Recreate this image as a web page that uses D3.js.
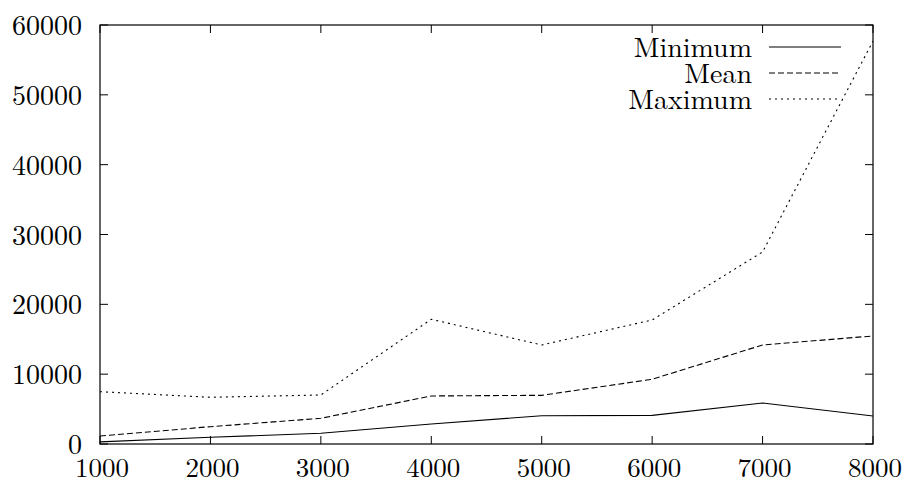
<!DOCTYPE html>
<html>
<head>
<meta charset="utf-8">
<script src="https://cdnjs.cloudflare.com/ajax/libs/d3/7.8.5/d3.min.js"></script>
<style>
  body { margin: 0; background: #fff; }
  svg text { font-family: "Latin Modern Roman", "CMU Serif", "Liberation Serif", serif; font-size: 28px; fill: #000; }
</style>
</head>
<body>
<div id="chart"></div>
<script>
// values
const sizes = [1000, 2000, 3000, 4000, 5000, 6000, 7000, 8000];
const minimum = [300, 960, 1530, 2870, 4050, 4100, 5870, 4010];
const mean = [1150, 2480, 3680, 6880, 6970, 9270, 14180, 15470];
const maximum = [7490, 6690, 7020, 17860, 14180, 17760, 27500, 57700];
const xTicks = [1000, 2000, 3000, 4000, 5000, 6000, 7000, 8000];
const yTicks = [0, 10000, 20000, 30000, 40000, 50000, 60000];

const series = [
  { name: "Minimum", values: minimum, dash: null },
  { name: "Mean", values: mean, dash: "6,3" },
  { name: "Maximum", values: maximum, dash: "2,4" }
];

const w = 909, h = 480;
const m = { left: 100, right: 36, top: 25, bottom: 36 };

const svg = d3.select("#chart").append("svg")
  .attr("width", w)
  .attr("height", h);

const x = d3.scaleLinear().domain([1000, 8000]).range([m.left, w - m.right]);
const y = d3.scaleLinear().domain([0, 60000]).range([h - m.bottom, m.top]);

const tickLen = 8;

// ticks, inward on all four sides
const g = svg.append("g").attr("stroke", "#000").attr("stroke-width", 1);
xTicks.forEach(function (t) {
  g.append("line").attr("x1", x(t)).attr("x2", x(t))
    .attr("y1", y(0)).attr("y2", y(0) - tickLen);
  g.append("line").attr("x1", x(t)).attr("x2", x(t))
    .attr("y1", y(60000)).attr("y2", y(60000) + tickLen);
});
yTicks.forEach(function (t) {
  g.append("line").attr("x1", x(1000)).attr("x2", x(1000) + tickLen)
    .attr("y1", y(t)).attr("y2", y(t));
  g.append("line").attr("x1", x(8000)).attr("x2", x(8000) - tickLen)
    .attr("y1", y(t)).attr("y2", y(t));
});

// tick labels
svg.append("g").selectAll("text")
  .data(yTicks).enter().append("text")
  .attr("x", x(1000) - 18)
  .attr("y", function (d) { return y(d) + 10; })
  .attr("text-anchor", "end")
  .text(function (d) { return d; });

svg.append("g").selectAll("text")
  .data(xTicks).enter().append("text")
  .attr("x", function (d) { return x(d) + 2; })
  .attr("y", 477)
  .attr("text-anchor", "middle")
  .style("font-size", "27px")
  .text(function (d) { return d; });

// lines
const line = d3.line()
  .x(function (d, i) { return x(sizes[i]); })
  .y(function (d) { return y(d); });

svg.append("clipPath").attr("id", "clip")
  .append("rect")
  .attr("x", m.left).attr("y", m.top)
  .attr("width", w - m.left - m.right).attr("height", h - m.top - m.bottom);

svg.append("g").attr("clip-path", "url(#clip)")
  .selectAll("path")
  .data(series).enter().append("path")
  .attr("d", function (d) { return line(d.values); })
  .attr("fill", "none")
  .attr("stroke", "#000")
  .attr("stroke-width", 1.1)
  .attr("stroke-dasharray", function (d) { return d.dash; });

// legend
const key = svg.append("g");
series.forEach(function (s, i) {
  const ky = 47 + i * 26;
  key.append("text")
    .attr("x", 752).attr("y", ky + 10)
    .attr("text-anchor", "end")
    .text(s.name);
  key.append("line")
    .attr("x1", 769).attr("x2", 841)
    .attr("y1", ky).attr("y2", ky)
    .attr("stroke", "#000")
    .attr("stroke-width", 1.1)
    .attr("stroke-dasharray", s.dash);
});

// border
svg.append("rect")
  .attr("x", m.left).attr("y", m.top)
  .attr("width", w - m.left - m.right).attr("height", h - m.top - m.bottom)
  .attr("fill", "none")
  .attr("stroke", "#000")
  .attr("stroke-width", 1.2);
</script>
</body>
</html>
